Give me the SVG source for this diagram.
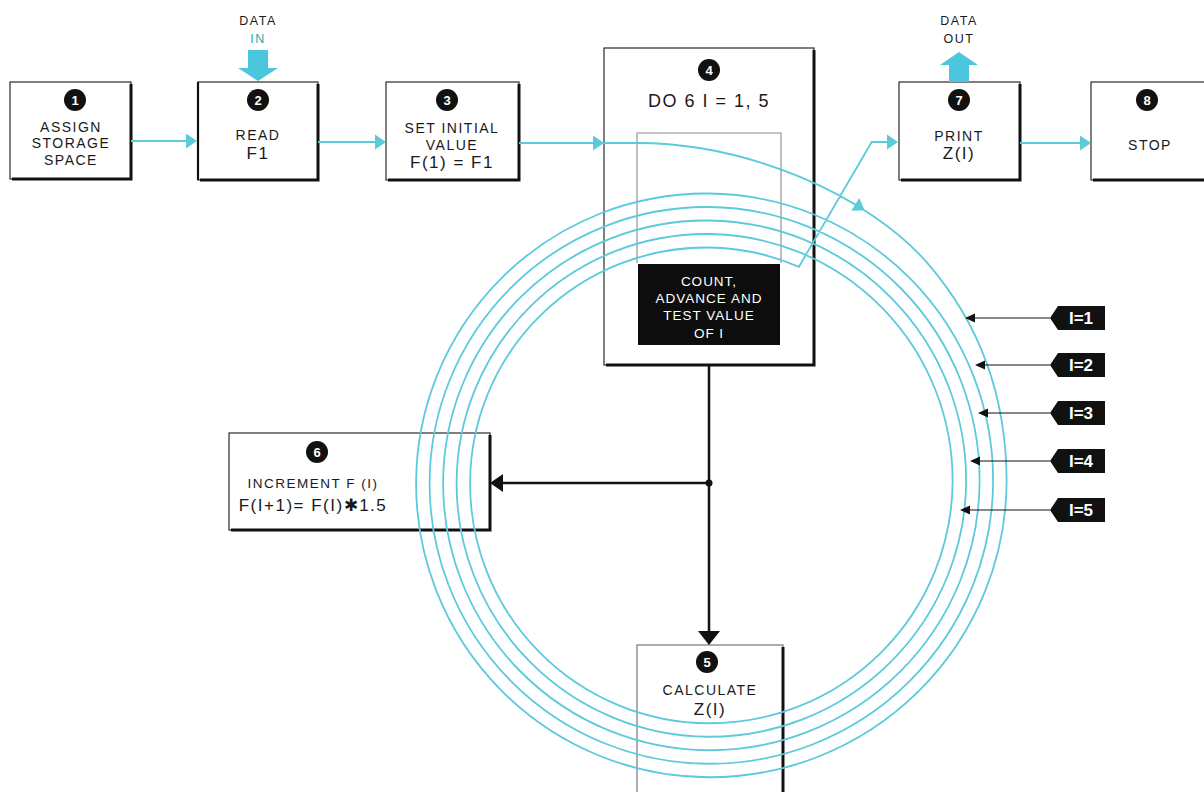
<svg xmlns="http://www.w3.org/2000/svg" xmlns:xlink="http://www.w3.org/1999/xlink" width="1204" height="792" viewBox="0 0 1204 792">
<style>
.box{fill:#fff;stroke:#2a2a2a;stroke-width:1.2}
.sh{fill:none;stroke:#111;stroke-width:3}
.thin{fill:none;stroke:#8a8a8a;stroke-width:1.1}
.t{font-family:"Liberation Sans",Arial,sans-serif;font-size:14px;letter-spacing:1.5px;fill:#1a1a1a;text-anchor:middle}
.tb{font-family:"Liberation Sans",Arial,sans-serif;font-size:17px;letter-spacing:1.5px;fill:#1a1a1a;text-anchor:middle}
.num{font-family:"Liberation Sans",Arial,sans-serif;font-size:13px;font-weight:bold;fill:#fff;text-anchor:middle}
.wt{font-family:"Liberation Sans",Arial,sans-serif;font-size:13.5px;letter-spacing:1px;fill:#fff;text-anchor:middle}
.tag{font-family:"Liberation Sans",Arial,sans-serif;font-size:17px;font-weight:bold;fill:#fff;text-anchor:middle}
.cy{fill:none;stroke:#5ccadb;stroke-width:1.8}
.bk{fill:none;stroke:#111;stroke-width:2.5}
.bkt{fill:none;stroke:#111;stroke-width:1.2}
</style>
<defs>
<path id="ca" d="M0,0 L-11,-7.5 L-11,7.5 Z" fill="#5ccadb"/>
<path id="ba" d="M0,0 L-10,-4.5 L-10,4.5 Z" fill="#111"/>
</defs>
<rect width="1204" height="792" fill="#fff"/>

<g id="node1">
<rect class="box" x="10" y="82" width="121" height="97"/>
<path class="sh" d="M131,84 V179 H12"/>
<circle cx="75" cy="100" r="11" fill="#111"/><text class="num" x="75" y="105">1</text>
<text class="t" x="71" y="132">ASSIGN</text>
<text class="t" x="71" y="148">STORAGE</text>
<text class="t" x="71" y="165">SPACE</text>
</g>

<g id="node2">
<rect class="box" x="198" y="82" width="120" height="98"/>
<path class="sh" d="M318,84 V180 H200"/>
<path d="M198,82 V180" stroke="#111" stroke-width="2.2"/>
<circle cx="258" cy="100" r="11" fill="#111"/><text class="num" x="258" y="105">2</text>
<text class="t" x="258" y="140">READ</text>
<text class="tb" x="258" y="159">F1</text>
<text class="t" x="258" y="25" style="font-size:12.5px">DATA</text>
<text class="t" x="258" y="43" style="font-size:12.5px;fill:#2fa6aa">IN</text>
<path d="M248,50 H268 V68 H278 L258,81 L238,68 H248 Z" fill="#4cc6dc"/>
</g>

<g id="node3">
<rect class="box" x="386" y="82" width="133" height="98"/>
<path class="sh" d="M519,84 V180 H388"/>
<circle cx="447" cy="100" r="11" fill="#111"/><text class="num" x="447" y="105">3</text>
<text class="t" x="452" y="133">SET  INITIAL</text>
<text class="t" x="452" y="150">VALUE</text>
<text class="tb" x="452" y="168">F(1) = F1</text>
</g>

<g id="node4">
<rect class="box" x="604" y="48" width="210" height="317"/>
<path class="sh" d="M814,50 V365 H606"/>
<path class="thin" d="M637,263 V133 H781 V263"/>
<circle cx="709" cy="70" r="11" fill="#111"/><text class="num" x="709" y="75">4</text>
<text class="tb" x="709" y="107" style="font-size:18px">DO 6 I = 1, 5</text>
<rect x="638" y="264" width="142" height="81" fill="#0d0d0d"/>
<text class="wt" x="709" y="286">COUNT,</text>
<text class="wt" x="709" y="303">ADVANCE AND</text>
<text class="wt" x="709" y="320">TEST  VALUE</text>
<text class="wt" x="709" y="338">OF I</text>
</g>

<g id="node7">
<rect class="box" x="899" y="82" width="121" height="98"/>
<path class="sh" d="M1020,84 V180 H901"/>
<circle cx="959" cy="100" r="11" fill="#111"/><text class="num" x="959" y="105">7</text>
<text class="t" x="959" y="141">PRINT</text>
<text class="tb" x="959" y="159">Z(I)</text>
<text class="t" x="959" y="25" style="font-size:12.5px">DATA</text>
<text class="t" x="959" y="43" style="font-size:12.5px">OUT</text>
<path d="M949,82 V65 H940 L959,52 L978,65 H969 V82 Z" fill="#4cc6dc"/>
</g>

<g id="node8">
<rect class="box" x="1091" y="82" width="125" height="98"/>
<path class="sh" d="M1093,180 H1216"/>
<circle cx="1147" cy="100" r="11" fill="#111"/><text class="num" x="1147" y="105">8</text>
<text class="t" x="1150" y="150">STOP</text>
</g>

<g id="node6">
<rect class="box" x="229" y="433" width="261" height="97"/>
<path class="sh" d="M490,435 V530 H231"/>
<circle cx="317" cy="452" r="11" fill="#111"/><text class="num" x="317" y="457">6</text>
<text class="t" x="313" y="488" style="font-size:13.5px">INCREMENT  F (I)</text>
<text class="tb" x="313" y="511">F(I+1)= F(I)✱1.5</text>
</g>

<g id="node5">
<rect class="box" x="637" y="645" width="146" height="160" style="stroke:#777"/>
<path class="sh" d="M783,647 V795"/>
<circle cx="707" cy="662" r="11" fill="#111"/><text class="num" x="707" y="667">5</text>
<text class="t" x="710" y="695">CALCULATE</text>
<text class="tb" x="710" y="715">Z(I)</text>
</g>

<g id="tags">
<g id="tag1"><polygon points="1050,318 1058,306 1105,306 1105,330 1058,330" fill="#111"/><text class="tag" x="1081" y="324">I=1</text></g>
<g id="tag2"><polygon points="1050,365 1058,353 1105,353 1105,377 1058,377" fill="#111"/><text class="tag" x="1081" y="371">I=2</text></g>
<g id="tag3"><polygon points="1050,413 1058,401 1105,401 1105,425 1058,425" fill="#111"/><text class="tag" x="1081" y="419">I=3</text></g>
<g id="tag4"><polygon points="1050,461 1058,449 1105,449 1105,473 1058,473" fill="#111"/><text class="tag" x="1081" y="467">I=4</text></g>
<g id="tag5"><polygon points="1050,510 1058,498 1105,498 1105,522 1058,522" fill="#111"/><text class="tag" x="1081" y="516">I=5</text></g>
</g>

<g id="connectors">
<path class="cy" d="M131,141 H190"/>
<use href="#ca" transform="translate(197,141)"/>
<path class="cy" d="M318,142 H380"/>
<use href="#ca" transform="translate(386,142)"/>
<path class="cy" d="M1020,143 H1085"/>
<use href="#ca" transform="translate(1091,143)"/>
<path class="cy" d="M519,143 L637,143 C747,143 868.2,194.9 927.2,262.8 C979.7,323.2 1006.6,397 1006.6,482
A296.94,296.94 0 0 1 708,777.25
A293.56,293.56 0 0 1 416.1,482
A290.19,290.19 0 0 1 708,193.5
A286.81,286.81 0 0 1 993.1,482
A283.44,283.44 0 0 1 708,763.75
A280.06,280.06 0 0 1 429.6,482
A276.69,276.69 0 0 1 708,207
A273.31,273.31 0 0 1 979.6,482
A269.94,269.94 0 0 1 708,750.25
A266.56,266.56 0 0 1 443.1,482
A263.19,263.19 0 0 1 708,220.5
A259.81,259.81 0 0 1 966.1,482
A256.44,256.44 0 0 1 708,736.75
A253.06,253.06 0 0 1 456.6,482
A249.69,249.69 0 0 1 708,234
A246.31,246.31 0 0 1 952.6,482
A242.94,242.94 0 0 1 708,723.25
A239.56,239.56 0 0 1 470.1,482
A236.19,236.19 0 0 1 708,247.5
A234.07,234.07 0 0 1 798.9,266.8
L871.7,142 L892,142"/>
<use href="#ca" transform="translate(604,143)"/>
<use href="#ca" transform="translate(898,142)"/>
<use href="#ca" transform="translate(864.6,210.3) rotate(32.5)"/>
<path class="bk" d="M709,365 V634"/>
<polygon points="709,645 698,631 720,631" fill="#111"/>
<path class="bk" d="M709,483 H502"/>
<polygon points="490,483 503,474 503,492" fill="#111"/>
<circle cx="709" cy="483" r="3.5" fill="#111"/>
<path class="bkt" d="M1050,318 H972"/><use href="#ba" transform="translate(965,318) rotate(180)"/>
<path class="bkt" d="M1050,365 H982"/><use href="#ba" transform="translate(975,365) rotate(180)"/>
<path class="bkt" d="M1050,413 H985"/><use href="#ba" transform="translate(978,413) rotate(180)"/>
<path class="bkt" d="M1050,461 H977"/><use href="#ba" transform="translate(970,461) rotate(180)"/>
<path class="bkt" d="M1050,510 H967"/><use href="#ba" transform="translate(960,510) rotate(180)"/>
</g>
</svg>
